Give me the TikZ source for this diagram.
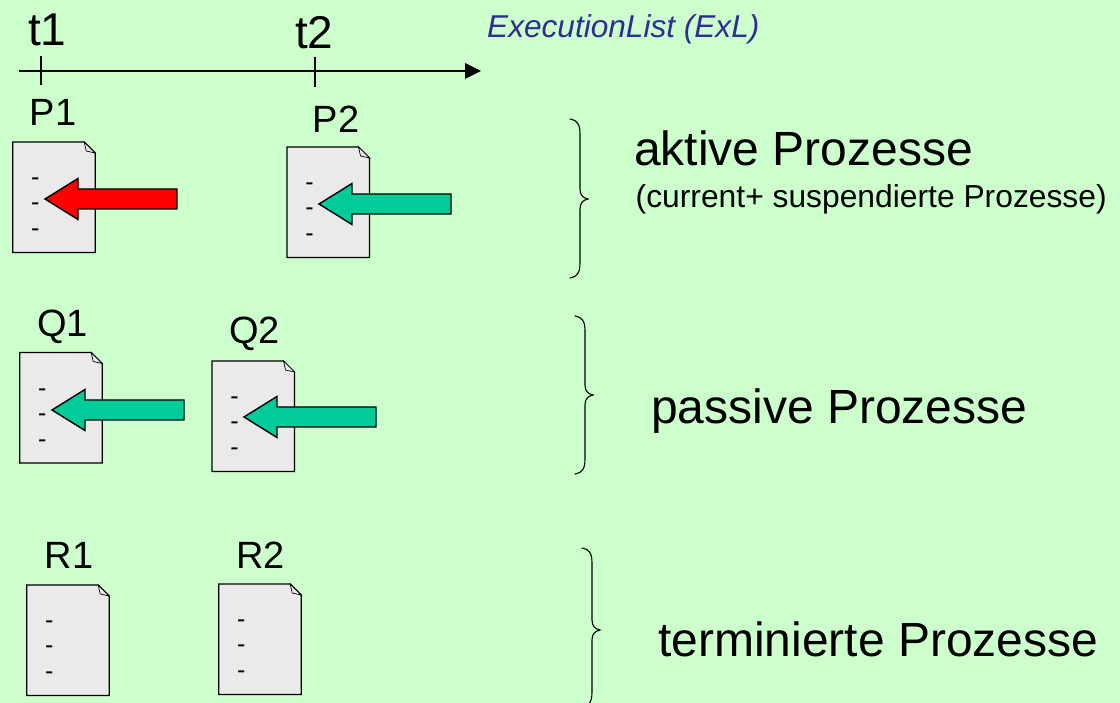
\documentclass[tikz,border=0pt]{standalone}
\usepackage{fontspec}
\setmainfont{Liberation Sans}
\definecolor{bgc}{HTML}{CCFFCC}
\definecolor{docc}{HTML}{EAEAEA}
\definecolor{tealc}{HTML}{00CC99}
\definecolor{bluec}{HTML}{2D2D95}
\newcommand{\fs}[1]{\fontsize{#1}{#1}\selectfont}
\tikzset{
  lbl/.style={inner sep=0pt,anchor=base west,text=black},
  docline/.style={draw=black,line width=1.4pt,fill=docc,line join=miter},
  foldline/.style={draw=black,line width=0.7pt,fill=docc},
  brc/.style={draw=black,line width=1.1pt,line cap=round},
  axisline/.style={draw=black,line width=1.3pt},
  pics/procdoc/.style={code={
    \path[docline] (0,0) -- (71.5,0) -- (82.5,11) -- (82.5,110.5) -- (0,110.5) -- cycle;
    \path[foldline] (71.5,0) -- (73.5,9) -- (82.5,11) -- cycle;
    \foreach \yy/\nn in {37/a,62/b,88/c}
      \node[inner sep=0pt,font=\fs{25}] (-\nn) at (22.5,\yy+3) {-};
  }},
  pics/procarrow/.style={code={
    \path[draw=black,line width=1.4pt,fill=#1,line join=miter]
      (0,0) -- (33,-20.5) -- (33,-10) -- (132,-10) -- (132,10) -- (33,10) -- (33,20.5) -- cycle;
  }},
}
\newcommand{\curly}[5]{%
  \draw[brc] (#1,#2) .. controls (#1+7,#2+1) and (#1+10,#2+5) .. (#1+10,#2+15)
    -- (#1+10,#4-10) .. controls (#1+10,#4-4) and (#1+13,#4-1) .. (#3,#4)
    .. controls (#1+13,#4+1) and (#1+10,#4+4) .. (#1+10,#4+10)
    -- (#1+10,#5-15) .. controls (#1+10,#5-5) and (#1+7,#5-1) .. (#1,#5);}
\begin{document}
\begin{tikzpicture}[x=1pt,y=-1pt]
\useasboundingbox (0,0) rectangle (1120,703);
\fill[bgc] (0,0) rectangle (1120,703);
% axis
\coordinate (axs) at (19,71);
\coordinate (axe) at (481,71);
\coordinate (t1a) at (41,56);
\coordinate (t1b) at (41,85);
\coordinate (t2a) at (315,57);
\coordinate (t2b) at (315,87);
\draw[axisline] (axs) -- (468,71);
\fill[black] (axe) -- (465,63) -- (465,79) -- cycle;
\draw[axisline] (t1a) -- (t1b);
\draw[axisline] (t2a) -- (t2b);
% labels
\node[lbl,font=\fs{46}] (t1) at (28,45.5) {t1};
\node[lbl,font=\fs{46}] (t2) at (295,48.5) {t2};
\node[lbl,font=\fs{38}] (P1) at (29.5,125.5) {P1};
\node[lbl,font=\fs{38}] (P2) at (312.5,132.5) {P2};
\node[lbl,font=\fs{38}] (Q1) at (37,336.5) {Q1};
\node[lbl,font=\fs{38}] (Q2) at (229,343.5) {Q2};
\node[lbl,font=\fs{38}] (R1) at (44.5,568.5) {R1};
\node[lbl,font=\fs{38}] (R2) at (236,568.5) {R2};
\node[lbl,font=\fs{31.6}\itshape,text=bluec] (exl) at (487,37.5) {ExecutionList (ExL)};
\node[lbl,font=\fs{48}] (akt) at (634,165.5) {aktive Prozesse};
\node[lbl,font=\fs{31.8}] (cur) at (635.5,207.5) {(current+ suspendierte Prozesse)};
\node[lbl,font=\fs{48}] (pas) at (651,423.5) {passive Prozesse};
\node[lbl,font=\fs{48}] (ter) at (658,656.5) {terminierte Prozesse};
% documents
\pic (d1) at (12.7,142) {procdoc};
\pic (d2) at (287,147) {procdoc};
\pic (d3) at (19.7,352.5) {procdoc};
\pic (d4) at (212,361) {procdoc};
\pic (d5) at (26.7,585) {procdoc};
\pic (d6) at (218.7,584) {procdoc};
% arrows
\pic (a1) at (45,199) {procarrow=red};
\pic (a2) at (319,204) {procarrow=tealc};
\pic (a3) at (52,410) {procarrow=tealc};
\pic (a4) at (244,417) {procarrow=tealc};
% braces
\curly{570}{119}{588}{199}{278}
\curly{575}{316}{593}{395}{474}
\curly{582}{548}{600}{630}{707}
\end{tikzpicture}
\end{document}
